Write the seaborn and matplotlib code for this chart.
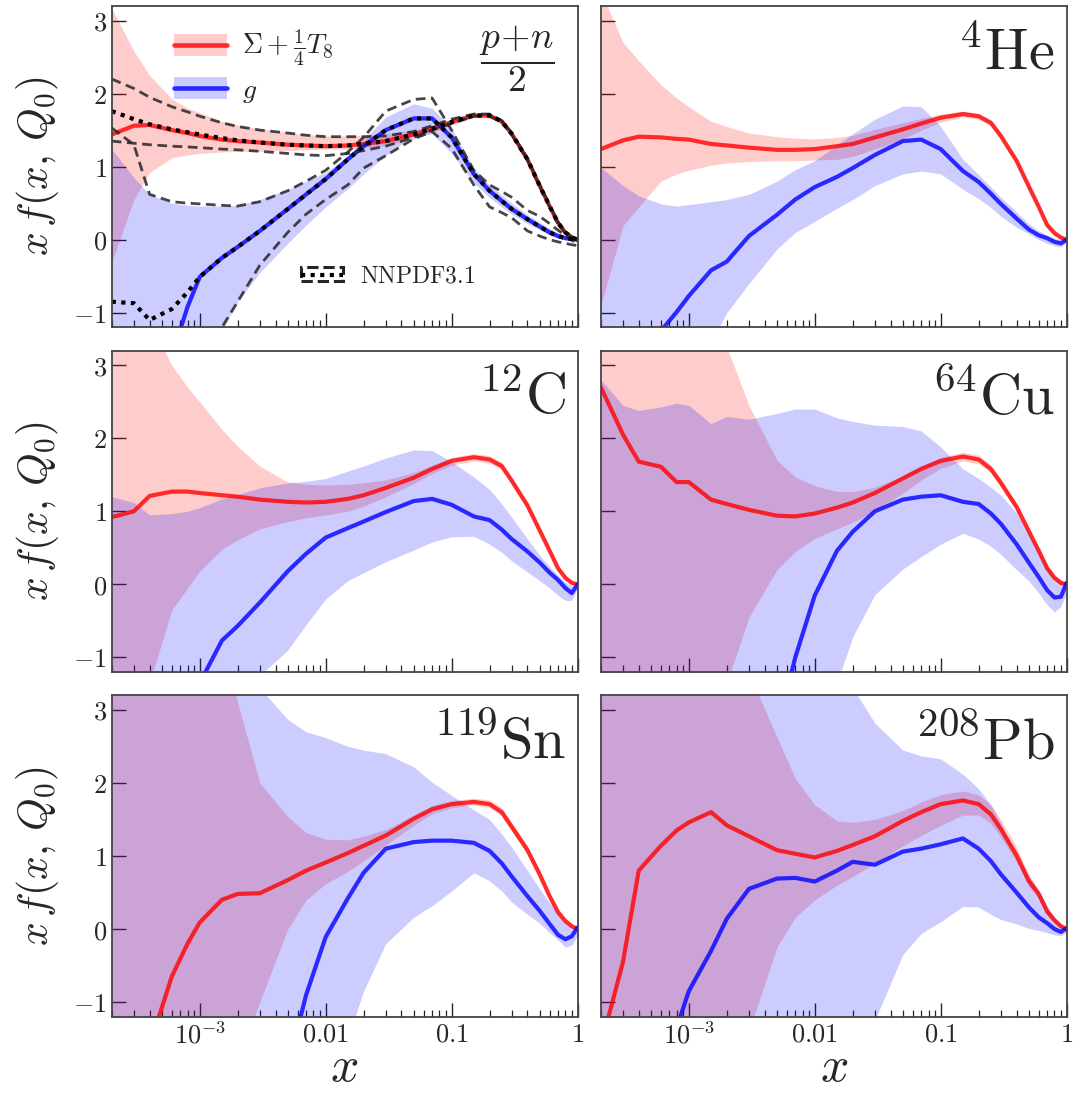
import matplotlib
matplotlib.use("Agg")
import matplotlib.pyplot as plt
import seaborn as sns
from matplotlib.patches import Patch
from matplotlib.lines import Line2D
from matplotlib.legend_handler import HandlerTuple

# common x grid
x_grid = [2e-4, 3e-4, 4e-4, 6e-4, 8e-4, 1e-3, 1.5e-3, 2e-3, 3e-3, 5e-3, 7e-3, 0.01, 0.015, 0.02,
          0.03, 0.05, 0.07, 0.1, 0.15, 0.2, 0.25, 0.3, 0.4, 0.5, 0.6, 0.7, 0.8, 0.9, 1.0]

# (p+n)/2
pn_sig = [1.44, 1.56, 1.57, 1.50, 1.46, 1.42, 1.37, 1.35, 1.33, 1.30, 1.29, 1.28, 1.29, 1.31, 1.35, 1.44, 1.52, 1.61, 1.70, 1.70, 1.62, 1.45, 1.10, 0.74, 0.46, 0.23, 0.10, 0.03, 0.0]
pn_sig_hi = [3.17, 2.58, 2.25, 1.93, 1.80, 1.74, 1.62, 1.57, 1.52, 1.47, 1.44, 1.42, 1.42, 1.43, 1.45, 1.50, 1.56, 1.64, 1.73, 1.73, 1.65, 1.48, 1.13, 0.77, 0.49, 0.26, 0.12, 0.05, 0.01]
pn_sig_lo = [-0.31, 0.55, 0.92, 1.12, 1.16, 1.18, 1.20, 1.21, 1.21, 1.22, 1.23, 1.24, 1.24, 1.26, 1.29, 1.38, 1.47, 1.57, 1.67, 1.67, 1.59, 1.42, 1.07, 0.71, 0.43, 0.20, 0.08, 0.01, -0.01]
pn_g = [-3.0, -2.6, -2.2, -1.6, -0.92, -0.51, -0.25, -0.10, 0.12, 0.42, 0.62, 0.83, 1.10, 1.28, 1.50, 1.66, 1.66, 1.40, 0.90, 0.67, 0.53, 0.42, 0.28, 0.18, 0.10, 0.05, 0.02, 0.01, 0.0]
pn_g_hi = [1.24, 0.85, 0.62, 0.50, 0.47, 0.46, 0.46, 0.47, 0.55, 0.69, 0.80, 0.92, 1.15, 1.37, 1.68, 1.86, 1.80, 1.52, 0.98, 0.75, 0.61, 0.50, 0.34, 0.24, 0.15, 0.09, 0.05, 0.03, 0.01]
pn_g_lo = [-3.0, -3.0, -3.0, -3.0, -3.0, -2.0, -1.25, -0.85, -0.45, -0.05, 0.20, 0.45, 0.70, 0.90, 1.15, 1.43, 1.45, 1.18, 0.78, 0.58, 0.45, 0.35, 0.22, 0.14, 0.06, 0.02, 0.0, -0.01, -0.01]

# NNPDF3.1 reference
nn_sig = [1.76, 1.65, 1.58, 1.51, 1.47, 1.44, 1.39, 1.36, 1.33, 1.30, 1.29, 1.28, 1.29, 1.31, 1.35, 1.44, 1.52, 1.61, 1.70, 1.70, 1.62, 1.45, 1.10, 0.74, 0.46, 0.23, 0.10, 0.03, 0.0]
nn_sig_hi = [2.20, 2.07, 1.95, 1.82, 1.75, 1.69, 1.60, 1.55, 1.50, 1.46, 1.43, 1.41, 1.41, 1.41, 1.42, 1.48, 1.56, 1.65, 1.72, 1.72, 1.63, 1.46, 1.11, 0.75, 0.47, 0.24, 0.11, 0.04, 0.0]
nn_sig_lo = [1.35, 1.32, 1.30, 1.28, 1.27, 1.26, 1.24, 1.23, 1.21, 1.18, 1.16, 1.15, 1.18, 1.22, 1.28, 1.40, 1.50, 1.59, 1.69, 1.69, 1.61, 1.44, 1.09, 0.73, 0.45, 0.22, 0.09, 0.02, -0.01]
nn_g = [-0.85, -0.87, -1.10, -0.95, -0.72, -0.51, -0.25, -0.10, 0.12, 0.42, 0.62, 0.83, 1.10, 1.28, 1.50, 1.66, 1.66, 1.40, 0.90, 0.67, 0.53, 0.42, 0.28, 0.18, 0.10, 0.05, 0.02, 0.01, 0.0]
nn_g_hi = [1.53, 1.30, 0.62, 0.52, 0.50, 0.49, 0.47, 0.46, 0.52, 0.67, 0.80, 0.95, 1.20, 1.40, 1.76, 1.92, 1.94, 1.50, 0.95, 0.75, 0.66, 0.58, 0.40, 0.32, 0.22, 0.13, 0.06, -0.01, -0.05]
nn_g_lo = [-3.0, -3.0, -3.0, -3.0, -3.0, -2.5, -1.2, -0.85, -0.35, 0.10, 0.35, 0.55, 0.75, 0.98, 1.15, 1.38, 1.48, 1.25, 0.75, 0.45, 0.37, 0.30, 0.12, 0.05, 0.0, -0.03, -0.05, -0.07, -0.08]

# 4He
he_sig = [1.24, 1.36, 1.41, 1.40, 1.38, 1.37, 1.31, 1.29, 1.26, 1.23, 1.23, 1.24, 1.28, 1.31, 1.40, 1.51, 1.59, 1.67, 1.72, 1.69, 1.60, 1.42, 1.08, 0.73, 0.45, 0.20, 0.09, 0.03, 0.0]
he_sig_hi = [3.4, 2.70, 2.45, 2.12, 1.94, 1.82, 1.62, 1.55, 1.46, 1.41, 1.39, 1.38, 1.40, 1.43, 1.51, 1.60, 1.66, 1.72, 1.76, 1.73, 1.64, 1.46, 1.12, 0.77, 0.49, 0.24, 0.12, 0.05, 0.01]
he_sig_lo = [-0.90, 0.19, 0.45, 0.80, 0.90, 0.95, 1.02, 1.05, 1.07, 1.08, 1.08, 1.09, 1.10, 1.14, 1.24, 1.38, 1.50, 1.61, 1.68, 1.65, 1.56, 1.38, 1.04, 0.69, 0.41, 0.16, 0.06, 0.01, -0.01]
he_g = [-3.0, -2.4, -1.9, -1.25, -0.99, -0.77, -0.42, -0.30, 0.05, 0.34, 0.55, 0.72, 0.86, 0.98, 1.16, 1.35, 1.37, 1.24, 0.94, 0.79, 0.63, 0.49, 0.29, 0.14, 0.06, 0.02, -0.03, -0.05, 0.0]
he_g_hi = [0.99, 0.74, 0.60, 0.49, 0.46, 0.48, 0.52, 0.55, 0.62, 0.80, 0.96, 1.08, 1.30, 1.45, 1.65, 1.83, 1.82, 1.55, 1.10, 0.89, 0.72, 0.58, 0.38, 0.22, 0.12, 0.06, 0.02, 0.0, 0.01]
he_g_lo = [-3.0, -3.0, -3.0, -2.6, -2.2, -1.9, -1.4, -1.0, -0.60, -0.13, 0.10, 0.25, 0.43, 0.55, 0.74, 0.90, 0.94, 0.90, 0.69, 0.56, 0.44, 0.32, 0.17, 0.08, 0.0, -0.05, -0.08, -0.10, -0.03]

# 12C
c_sig = [0.92, 1.00, 1.21, 1.27, 1.27, 1.25, 1.22, 1.20, 1.16, 1.13, 1.12, 1.13, 1.17, 1.22, 1.32, 1.46, 1.58, 1.69, 1.74, 1.71, 1.62, 1.42, 1.08, 0.74, 0.46, 0.22, 0.09, 0.02, 0.0]
c_sig_hi = [3.6, 3.6, 3.6, 3.0, 2.7, 2.5, 2.12, 1.89, 1.62, 1.40, 1.37, 1.36, 1.37, 1.39, 1.43, 1.53, 1.63, 1.74, 1.79, 1.76, 1.67, 1.47, 1.12, 0.78, 0.50, 0.26, 0.12, 0.05, 0.01]
c_sig_lo = [-2.2, -1.8, -1.35, -0.35, -0.05, 0.18, 0.48, 0.61, 0.76, 0.86, 0.91, 0.95, 1.0, 1.07, 1.2, 1.38, 1.52, 1.63, 1.69, 1.66, 1.57, 1.37, 1.04, 0.70, 0.42, 0.18, 0.06, 0.0, -0.01]
c_g = [-4.0, -3.5, -3.0, -2.5, -2.0, -1.35, -0.77, -0.57, -0.25, 0.18, 0.42, 0.64, 0.77, 0.86, 0.99, 1.14, 1.17, 1.09, 0.93, 0.88, 0.75, 0.62, 0.45, 0.30, 0.16, 0.06, -0.05, -0.12, 0.0]
c_g_hi = [1.20, 1.12, 0.95, 0.97, 1.0, 1.05, 1.17, 1.23, 1.32, 1.39, 1.41, 1.45, 1.55, 1.62, 1.73, 1.84, 1.83, 1.68, 1.47, 1.30, 1.10, 0.92, 0.62, 0.40, 0.24, 0.12, 0.03, -0.02, 0.0]
c_g_lo = [-3.0, -3.0, -3.0, -3.0, -3.0, -2.5, -2.0, -1.6, -1.25, -0.9, -0.55, -0.20, 0.05, 0.16, 0.31, 0.47, 0.58, 0.65, 0.66, 0.55, 0.44, 0.32, 0.17, 0.05, -0.05, -0.15, -0.22, -0.22, -0.05]

# 64Cu
cu_sig = [2.70, 2.05, 1.68, 1.61, 1.40, 1.40, 1.16, 1.10, 1.02, 0.94, 0.93, 0.97, 1.05, 1.12, 1.25, 1.45, 1.58, 1.69, 1.75, 1.71, 1.58, 1.39, 1.06, 0.73, 0.46, 0.22, 0.09, 0.02, 0.0]
cu_sig_hi = [4.0, 4.0, 4.0, 4.0, 4.0, 4.0, 4.0, 3.25, 2.45, 1.70, 1.47, 1.35, 1.27, 1.27, 1.33, 1.48, 1.62, 1.74, 1.81, 1.77, 1.63, 1.44, 1.11, 0.78, 0.51, 0.27, 0.13, 0.05, 0.01]
cu_sig_lo = [-3.0, -3.0, -3.0, -3.0, -3.0, -2.5, -1.8, -1.35, -0.45, 0.20, 0.45, 0.63, 0.76, 0.85, 1.0, 1.25, 1.43, 1.59, 1.69, 1.65, 1.53, 1.34, 1.01, 0.68, 0.41, 0.17, 0.05, -0.01, -0.01]
cu_g = [-5.0, -5.0, -5.0, -4.5, -4.0, -3.5, -3.0, -2.6, -2.2, -2.0, -1.0, -0.15, 0.46, 0.72, 1.0, 1.16, 1.20, 1.22, 1.13, 1.10, 0.97, 0.83, 0.55, 0.30, 0.10, -0.08, -0.18, -0.17, 0.02]
cu_g_hi = [2.80, 2.45, 2.38, 2.43, 2.48, 2.45, 2.20, 2.30, 2.26, 2.34, 2.40, 2.40, 2.28, 2.23, 2.18, 2.16, 2.10, 1.88, 1.58, 1.45, 1.33, 1.22, 0.98, 0.70, 0.45, 0.25, 0.10, 0.04, 0.02]
cu_g_lo = [-3.0, -3.0, -3.0, -3.0, -3.0, -3.0, -3.0, -3.0, -3.0, -2.5, -2.2, -2.0, -1.35, -0.72, -0.14, 0.21, 0.38, 0.55, 0.70, 0.62, 0.52, 0.41, 0.20, 0.05, -0.12, -0.28, -0.38, -0.30, -0.11]

# 119Sn
sn_sig = [-3.5, -2.7, -1.6, -0.65, -0.20, 0.09, 0.40, 0.48, 0.49, 0.67, 0.80, 0.91, 1.04, 1.14, 1.28, 1.51, 1.64, 1.71, 1.74, 1.71, 1.60, 1.40, 1.08, 0.75, 0.45, 0.23, 0.11, 0.04, 0.0]
sn_sig_hi = [4.0, 4.0, 4.0, 4.0, 4.0, 4.0, 4.0, 3.1, 2.0, 1.54, 1.32, 1.23, 1.22, 1.27, 1.36, 1.56, 1.69, 1.76, 1.79, 1.77, 1.66, 1.46, 1.14, 0.80, 0.50, 0.28, 0.14, 0.06, 0.01]
sn_sig_lo = [-4.0, -3.8, -3.5, -3.2, -3.0, -2.8, -2.2, -1.8, -1.0, 0.0, 0.40, 0.62, 0.79, 0.93, 1.15, 1.42, 1.58, 1.66, 1.70, 1.66, 1.55, 1.35, 1.03, 0.70, 0.40, 0.18, 0.07, 0.01, -0.01]
sn_g = [-6.0, -5.5, -5.0, -4.5, -4.0, -3.6, -3.0, -2.6, -2.3, -1.9, -0.9, -0.11, 0.42, 0.77, 1.10, 1.19, 1.21, 1.21, 1.18, 1.07, 0.90, 0.72, 0.45, 0.25, 0.07, -0.08, -0.14, -0.10, 0.02]
sn_g_hi = [4.0, 4.0, 4.0, 4.0, 4.0, 4.0, 4.0, 4.0, 3.3, 2.87, 2.70, 2.62, 2.50, 2.45, 2.40, 2.22, 2.01, 1.83, 1.63, 1.50, 1.30, 1.12, 0.80, 0.55, 0.36, 0.20, 0.08, 0.03, 0.01]
sn_g_lo = [-3.0, -3.0, -3.0, -3.0, -3.0, -3.0, -3.0, -3.0, -3.0, -2.8, -2.5, -2.2, -1.5, -0.85, -0.20, 0.16, 0.32, 0.52, 0.77, 0.66, 0.52, 0.37, 0.20, 0.08, -0.05, -0.15, -0.25, -0.22, -0.09]

# 208Pb
pb_sig = [-1.6, -0.45, 0.80, 1.14, 1.35, 1.46, 1.60, 1.42, 1.27, 1.08, 1.03, 0.98, 1.07, 1.15, 1.27, 1.48, 1.60, 1.71, 1.76, 1.71, 1.57, 1.37, 1.01, 0.66, 0.48, 0.24, 0.12, 0.04, 0.0]
pb_sig_hi = [4.0, 4.0, 4.0, 4.0, 4.0, 4.0, 4.0, 4.0, 3.5, 2.63, 2.06, 1.70, 1.48, 1.46, 1.50, 1.62, 1.74, 1.84, 1.89, 1.84, 1.70, 1.50, 1.12, 0.75, 0.54, 0.29, 0.16, 0.06, 0.01]
pb_sig_lo = [-4.0, -4.0, -4.0, -4.0, -4.0, -4.0, -3.5, -2.5, -1.4, -0.25, 0.16, 0.40, 0.60, 0.72, 0.90, 1.14, 1.28, 1.42, 1.56, 1.56, 1.45, 1.26, 0.92, 0.58, 0.42, 0.19, 0.08, 0.01, -0.01]
pb_g = [-4.0, -3.2, -2.6, -1.8, -1.35, -0.85, -0.30, 0.14, 0.55, 0.69, 0.70, 0.65, 0.80, 0.92, 0.88, 1.06, 1.10, 1.16, 1.24, 1.10, 0.93, 0.75, 0.50, 0.30, 0.16, 0.08, 0.0, -0.04, 0.01]
pb_g_hi = [4.0, 4.0, 4.0, 4.0, 4.0, 4.0, 4.0, 4.0, 4.0, 4.0, 4.0, 4.0, 4.0, 3.3, 2.82, 2.45, 2.37, 2.33, 2.12, 1.92, 1.70, 1.45, 0.98, 0.72, 0.52, 0.32, 0.16, 0.05, 0.01]
pb_g_lo = [-3.0, -3.0, -3.0, -3.0, -3.0, -3.0, -3.0, -3.0, -3.0, -3.0, -3.0, -3.0, -2.5, -1.8, -1.25, -0.35, -0.06, 0.10, 0.31, 0.30, 0.20, 0.13, 0.07, 0.01, -0.02, -0.05, -0.08, -0.09, -0.05]

panel_labels = [r"$\dfrac{p\!+\!n}{2}$", r"$^{4}\mathrm{He}$", r"$^{12}\mathrm{C}$",
                r"$^{64}\mathrm{Cu}$", r"$^{119}\mathrm{Sn}$", r"$^{208}\mathrm{Pb}$"]
panels = [
    (pn_sig, pn_sig_lo, pn_sig_hi, pn_g, pn_g_lo, pn_g_hi),
    (he_sig, he_sig_lo, he_sig_hi, he_g, he_g_lo, he_g_hi),
    (c_sig, c_sig_lo, c_sig_hi, c_g, c_g_lo, c_g_hi),
    (cu_sig, cu_sig_lo, cu_sig_hi, cu_g, cu_g_lo, cu_g_hi),
    (sn_sig, sn_sig_lo, sn_sig_hi, sn_g, sn_g_lo, sn_g_hi),
    (pb_sig, pb_sig_lo, pb_sig_hi, pb_g, pb_g_lo, pb_g_hi),
]
xticks = [1e-3, 1e-2, 1e-1, 1]
xtick_labels = [r"$10^{-3}$", r"$0.01$", r"$0.1$", r"$1$"]
yticks = [-1, 0, 1, 2, 3]
ytick_labels = [r"$-1$", r"$0$", r"$1$", r"$2$", r"$3$"]

RED = "red"
BLUE = "blue"
DARK = "#262626"

sns.set_theme(style="ticks")
plt.rcParams["mathtext.fontset"] = "cm"
plt.rcParams["font.family"] = ["DejaVu Serif"]

fig, axes = plt.subplots(3, 2, figsize=(10.73, 11.01), dpi=100, sharex=True, sharey=True)
fig.subplots_adjust(left=0.1041, right=0.9941, bottom=0.0766, top=0.9946, wspace=0.05, hspace=0.0725)

for i, ax in enumerate(axes.flat):
    sig, sig_lo, sig_hi, g, g_lo, g_hi = panels[i]
    ax.fill_between(x_grid, sig_lo, sig_hi, color=RED, alpha=0.2, lw=0)
    ax.fill_between(x_grid, g_lo, g_hi, color=BLUE, alpha=0.2, lw=0)
    sns.lineplot(x=x_grid, y=sig, ax=ax, color=RED, alpha=0.8, lw=3)
    sns.lineplot(x=x_grid, y=g, ax=ax, color=BLUE, alpha=0.8, lw=3)
    if i == 0:
        for arr in (nn_sig_hi, nn_sig_lo, nn_g_hi, nn_g_lo):
            sns.lineplot(x=x_grid, y=arr, ax=ax, color=DARK, alpha=0.85, lw=2,
                         linestyle=(0, (3.5, 2)))
        for arr in (nn_sig, nn_g):
            sns.lineplot(x=x_grid, y=arr, ax=ax, color="black", lw=3,
                         linestyle=(0, (1, 1.3)))
    ax.set_xscale("log")
    ax.set_xlim(2e-4, 1)
    ax.set_ylim(-1.2, 3.2)
    ax.set_xticks(xticks, labels=xtick_labels)
    ax.set_yticks(yticks, labels=ytick_labels)
    ax.tick_params(which="both", direction="in", top=False, right=False, color=DARK, labelsize=19)
    ax.tick_params(which="major", length=10, width=1)
    ax.tick_params(which="minor", length=5, width=0.9)
    for s in ax.spines.values():
        s.set_color("#444444")
        s.set_linewidth(1.3)
    if i == 0:
        ax.text(0.87, 0.945, panel_labels[i], transform=ax.transAxes, ha="center", va="top", fontsize=27)
    else:
        ax.text(0.975, 0.94, panel_labels[i], transform=ax.transAxes, ha="right", va="top", fontsize=42)
    if i % 2 == 0:
        ax.set_ylabel(r"$x\,f(x,\,Q_0)$", fontsize=30, labelpad=9)
    else:
        ax.set_ylabel("")
    if i >= 4:
        ax.set_xlabel(r"$x$", fontsize=36, labelpad=-4)
    else:
        ax.set_xlabel("")

ax0 = axes[0, 0]
h1 = (Patch(facecolor=RED, alpha=0.2, edgecolor="none"), Line2D([], [], color=RED, alpha=0.8, lw=3.3))
h2 = (Patch(facecolor=BLUE, alpha=0.2, edgecolor="none"), Line2D([], [], color=BLUE, alpha=0.8, lw=3.3))
leg1 = ax0.legend([h1, h2], [r"$\Sigma+\frac{1}{4}T_8$", r"$g$"], loc="upper left",
                  bbox_to_anchor=(0.08, 1.01), frameon=False, fontsize=20, handlelength=1.9,
                  handleheight=0.8, labelspacing=0.3, handletextpad=0.55,
                  handler_map={tuple: HandlerTuple(ndivide=1, pad=0)})
ax0.add_artist(leg1)
h3 = (Patch(facecolor="none", edgecolor=DARK, linestyle="--", lw=2.2),
      Line2D([], [], color="black", ls=(0, (1, 1.3)), lw=3))
ax0.legend([h3], [r"$\mathrm{NNPDF3.1}$"], loc="center left", bbox_to_anchor=(0.36, 0.16),
           frameon=False, fontsize=17, handlelength=1.8, handleheight=0.5, handletextpad=0.7,
           handler_map={tuple: HandlerTuple(ndivide=1, pad=0)})

fig.savefig("out.png", dpi=100)
